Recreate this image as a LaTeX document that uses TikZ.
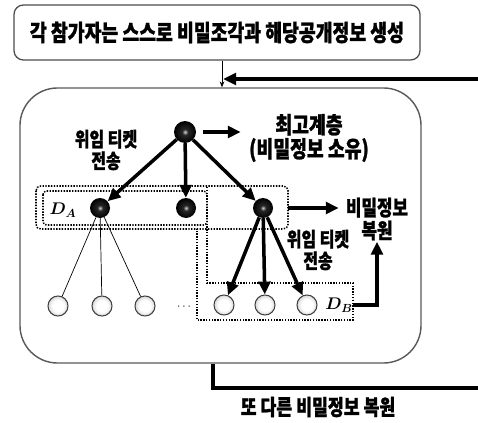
\documentclass[tikz,border=0pt]{standalone}
\usepackage{fontspec}
\usepackage{amsmath}
\newfontfamily\krfont{Noto Sans CJK KR}[FakeStretch=0.8, BoldFeatures={FakeBold=1.2}]
\usetikzlibrary{arrows.meta,positioning,shapes.geometric}

\pgfdeclareradialshading{speck}{\pgfpoint{0bp}{0bp}}{color(0bp)=(gray!40); color(7bp)=(black!85); color(25bp)=(black); color(50bp)=(black)}
\pgfdeclareradialshading{pearl}{\pgfpoint{0bp}{0bp}}{color(0bp)=(white); color(14bp)=(white); color(34bp)=(gray!55); color(50bp)=(gray!85)}

\begin{document}
\begin{tikzpicture}[x=0.03cm, y=-0.03cm,
  frame/.style={draw=black!70, line width=1.1pt, rounded corners=8pt},
  bigframe/.style={draw=black!65, line width=1.2pt, rounded corners=32pt},
  txt/.style={font=\krfont\bfseries\fontsize{17}{18.5}\selectfont, align=center, inner sep=1pt},
  holder/.style={circle, shading=speck, minimum size=0.6cm, inner sep=0pt},
  leaf/.style={circle, shading=pearl, draw=black!75, line width=0.9pt, minimum size=0.6cm, inner sep=0pt},
  heavy/.style={-{Triangle[length=11pt, width=10pt]}, line width=3pt},
  link/.style={line width=0.6pt},
  group/.style={dash pattern=on 1.2pt off 1.2pt, line width=1.3pt},
  setname/.style={font=\fontsize{14}{16}\selectfont\boldmath, inner sep=1pt}
]
  \useasboundingbox (0,0) rectangle (478,423);

  % Frames
  \node[frame, minimum width=12.18cm, minimum height=1.65cm, txt, font=\krfont\bfseries\fontsize{19.5}{21}\selectfont] (gen) at (217,32.5) {각 참가자는 스스로 비밀조각과 해당공개정보 생성};
  \node[bigframe, minimum width=12.03cm, minimum height=8.25cm] (env) at (220.5,225.5) {};

  % Loop in and out
  \coordinate (join) at (222,79);
  \coordinate (loopin) at (478,79);
  \coordinate (ret) at (213,388);
  \coordinate (loopout) at (478,388);
  \draw[link, -{Stealth[length=5pt, width=4pt]}] (gen.south -| join) -- (env.north -| join);
  \draw[heavy, shorten >=1pt] (loopin) -- (join);
  \draw[line width=2.6pt] (env.south -| ret) |- (loopout);
  \node[txt, font=\krfont\bfseries\fontsize{18.4}{20}\selectfont] (again) at (318,407) {또 다른 비밀정보 복원};

  % Groups
  \draw[group, rounded corners=4pt] (36,186) rectangle (288,229);
  \draw[group, rounded corners=3pt] (43,191) rectangle (207,225);
  \draw[group] (207,187) -- (207,283) -- (353,283) -- (353,320) -- (197,320) -- (197,229);
  \node[setname] (dalabel) at (63,210) {$D_A$};
  \node[setname] (dblabel) at (339,305) {$D_B$};

  % Labels
  \node[txt, font=\krfont\bfseries\fontsize{19.5}{20.5}\selectfont] (owner) at (309,138) {최고계층\\(비밀정보 소유)};
  \node[txt] (deleg1) at (106,150) {위임 티켓\\전송};
  \node[txt] (deleg2) at (318,250) {위임 티켓\\전송};
  \node[txt, font=\krfont\bfseries\fontsize{18}{19.5}\selectfont] (restore) at (377,219) {비밀정보\\복원};

  % Participants
  \node[holder, minimum size=0.66cm] (root) at (185,132) {};
  \node[holder] (da) at (100,208) {};
  \node[holder] (mid) at (186,208) {};
  \node[holder] (db) at (263,208) {};
  \node[leaf] (a1) at (58,306) {};
  \node[leaf] (a2) at (102,306) {};
  \node[leaf] (a3) at (145,306) {};
  \node[inner sep=0pt, font=\bfseries] (dots) at (185,307) {$\cdots$};
  \node[leaf] (b1) at (224,305) {};
  \node[leaf] (b2) at (265,305) {};
  \node[leaf] (b3) at (307,305) {};

  % Arrows
  \draw[heavy] (root) -- (da);
  \draw[heavy] (root) -- (mid);
  \draw[heavy] (root) -- (db);
  \draw[heavy, shorten <=6pt, shorten >=6pt] (root) -- (root -| owner.west);
  \draw[link] (da) -- (a1);
  \draw[link] (da) -- (a2);
  \draw[link] (da) -- (a3);
  \draw[heavy] (db) -- (b1);
  \draw[heavy] (db) -- (b2);
  \draw[heavy] (db) -- (b3);
  \coordinate (daR) at (288,208);
  \coordinate (dbR) at (353,305);
  \draw[heavy, shorten >=5pt] (daR) -- (daR -| restore.west);
  \draw[heavy] (dbR) -| (restore.south);
\end{tikzpicture}
\end{document}
